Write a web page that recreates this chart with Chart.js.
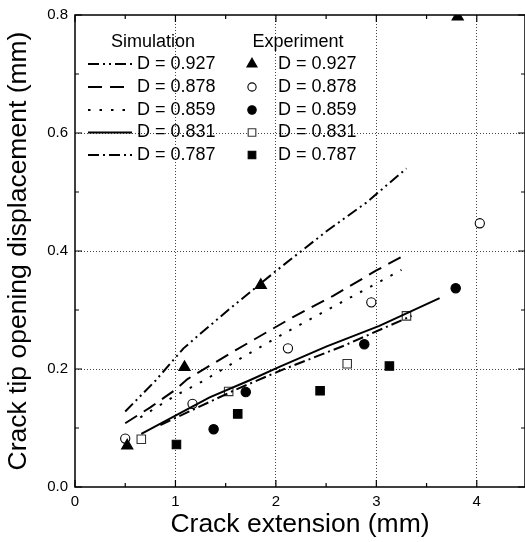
<!DOCTYPE html>
<html>
<head>
<meta charset="utf-8">
<script src="https://cdn.jsdelivr.net/npm/chart.js@4.4.1/dist/chart.umd.min.js"></script>
<style>
  html, body { margin: 0; padding: 0; background: #fff; }
  canvas { display: block; }
</style>
</head>
<body>
<canvas id="chartCtod" width="525" height="542"></canvas>
<script>
/* ===== data ===== */
const dLabels = ['D = 0.927', 'D = 0.878', 'D = 0.859', 'D = 0.831', 'D = 0.787'];

// Simulation curves (crack extension mm, CTOD mm)
const sim927X = [0.5, 0.8, 1.08, 1.25, 1.54, 2.0, 2.5, 2.9, 3.3];
const sim927Y = [0.128, 0.18, 0.235, 0.26, 0.302, 0.366, 0.433, 0.482, 0.54];
const sim878X = [0.5, 0.75, 1.0, 1.12, 1.6, 2.17, 2.57, 3.0, 3.27];
const sim878Y = [0.108, 0.135, 0.165, 0.183, 0.232, 0.288, 0.324, 0.367, 0.392];
const sim859X = [0.65, 1.0, 1.28, 1.64, 2.12, 2.62, 3.25];
const sim859Y = [0.118, 0.155, 0.18, 0.217, 0.264, 0.31, 0.368];
const sim831X = [0.66, 1.0, 1.34, 1.74, 2.04, 2.5, 3.03, 3.63];
const sim831Y = [0.09, 0.121, 0.152, 0.181, 0.204, 0.238, 0.273, 0.32];
const sim787X = [0.85, 1.2, 1.6, 2.04, 2.67, 3.35];
const sim787Y = [0.105, 0.133, 0.165, 0.197, 0.239, 0.29];

// Experiment points
const exp927X = [0.52, 1.09, 1.85, 3.81];
const exp927Y = [0.07, 0.203, 0.342, 0.797];
const exp878X = [0.5, 1.17, 2.12, 2.95, 4.03];
const exp878Y = [0.082, 0.141, 0.235, 0.313, 0.447];
const exp859X = [1.38, 1.7, 2.88, 3.79];
const exp859Y = [0.098, 0.161, 0.242, 0.337];
const exp831X = [0.66, 1.53, 2.71, 3.3];
const exp831Y = [0.081, 0.162, 0.209, 0.29];
const exp787X = [1.01, 1.62, 2.44, 3.13];
const exp787Y = [0.072, 0.124, 0.163, 0.205];

const xTicks = [0, 1, 2, 3, 4];
const yTicks = [0, 0.2, 0.4, 0.6, 0.8];

/* ===== styles ===== */
const FONT = 'Arial, "Liberation Sans", sans-serif';
const simDash = [[11, 4, 2, 4, 2, 4], [14, 8], [2.5, 9], [], [11, 4, 2, 4]];
const expMarker = [
    { pointStyle: 'triangle', radius: 6.5, bg: '#000', border: '#000' },
    { pointStyle: 'circle', radius: 4.6, bg: '#fff', border: '#000' },
    { pointStyle: 'circle', radius: 4.7, bg: '#000', border: '#000' },
    { pointStyle: 'rect', radius: 6, bg: '#fff', border: '#333' },
    { pointStyle: 'rect', radius: 6, bg: '#000', border: '#000' }
];

const pts = (xs, ys) => xs.map((x, i) => ({ x, y: ys[i] }));

const simSeries = [[sim927X, sim927Y], [sim878X, sim878Y], [sim859X, sim859Y], [sim831X, sim831Y], [sim787X, sim787Y]];
const expSeries = [[exp927X, exp927Y], [exp878X, exp878Y], [exp859X, exp859Y], [exp831X, exp831Y], [exp787X, exp787Y]];

const datasets = [];
simSeries.forEach(([xs, ys], i) => {
    datasets.push({
        label: 'Simulation ' + dLabels[i],
        data: pts(xs, ys),
        showLine: true,
        borderColor: '#000',
        borderWidth: 2,
        borderDash: simDash[i],
        pointRadius: 0,
        tension: 0,
        clip: 0
    });
});
expSeries.forEach(([xs, ys], i) => {
    const m = expMarker[i];
    datasets.push({
        label: 'Experiment ' + dLabels[i],
        data: pts(xs, ys),
        showLine: false,
        pointStyle: m.pointStyle,
        pointRadius: m.radius,
        pointBackgroundColor: m.bg,
        pointBorderColor: m.border,
        pointBorderWidth: 1.1,
        clip: 0
    });
});

// frame, inward ticks and the two-column legend
const framePlugin = {
    id: 'frame',
    afterDraw(chart) {
        const ctx = chart.ctx;
        const { left, right, top, bottom } = chart.chartArea;
        const sx = chart.scales.x, sy = chart.scales.y;
        ctx.save();
        ctx.strokeStyle = '#000';
        ctx.lineWidth = 1.5;
        ctx.strokeRect(left, top, right - left, bottom - top);

        ctx.lineWidth = 1.2;
        const xStep = (xTicks[1] - xTicks[0]) / 2;
        for (let v = xTicks[0], k = 0; v <= sx.max + 1e-9; v += xStep, k++) {
            const px = sx.getPixelForValue(v);
            const len = k % 2 === 0 ? 7 : 4;
            ctx.beginPath();
            ctx.moveTo(px, bottom); ctx.lineTo(px, bottom - len);
            ctx.moveTo(px, top); ctx.lineTo(px, top + len);
            ctx.stroke();
        }
        const yStep = (yTicks[1] - yTicks[0]) / 2;
        for (let v = yTicks[0], k = 0; v <= sy.max + 1e-9; v += yStep, k++) {
            const py = sy.getPixelForValue(v);
            const len = k % 2 === 0 ? 7 : 4;
            ctx.beginPath();
            ctx.moveTo(left, py); ctx.lineTo(left + len, py);
            ctx.moveTo(right, py); ctx.lineTo(right - len, py);
            ctx.stroke();
        }

        // legend
        const rowY = [64, 87, 110, 132.5, 155];
        ctx.fillStyle = '#000';
        ctx.font = '18px ' + FONT;
        ctx.textBaseline = 'middle';
        ctx.textAlign = 'center';
        ctx.fillText('Simulation', 153, 42);
        ctx.fillText('Experiment', 298, 42);
        ctx.textAlign = 'left';
        dLabels.forEach((lab, i) => {
            const y = rowY[i];
            ctx.save();
            ctx.strokeStyle = '#000';
            ctx.lineWidth = 2;
            ctx.setLineDash(simDash[i]);
            ctx.beginPath();
            ctx.moveTo(88, y); ctx.lineTo(132, y);
            ctx.stroke();
            ctx.restore();
            ctx.fillText(lab, 137, y);

            const m = expMarker[i];
            ctx.save();
            ctx.fillStyle = m.bg;
            ctx.strokeStyle = m.border;
            ctx.lineWidth = 1.1;
            Chart.helpers.drawPoint(ctx, { pointStyle: m.pointStyle, radius: m.radius * 0.9, borderWidth: 1.1 }, 252, y);
            ctx.restore();
            ctx.fillText(lab, 278, y);
        });
        ctx.restore();
    }
};

const gridColor = c => (c.tick && c.tick.value > 0 && c.tick.value < 0.79) ? '#444' : 'rgba(0,0,0,0)';
const xGridColor = c => (c.tick && c.tick.value > 0) ? '#444' : 'rgba(0,0,0,0)';

new Chart(document.getElementById('chartCtod').getContext('2d'), {
    type: 'scatter',
    data: { datasets },
    options: {
        responsive: false,
        animation: false,
        layout: { autoPadding: false, padding: { top: 15, right: 0, left: 0, bottom: 0 } },
        plugins: {
            legend: { display: false },
            tooltip: { enabled: false }
        },
        scales: {
            x: {
                type: 'linear',
                min: 0,
                max: 4.48,
                afterBuildTicks: s => { s.ticks = xTicks.map(v => ({ value: v })); },
                afterFit: s => { s.height = 55; s.paddingLeft = 0; s.paddingRight = 0; },
                grid: { color: xGridColor, lineWidth: 1, drawTicks: false },
                border: { display: false, dash: [1, 2] },
                ticks: { color: '#000', padding: 6, font: { size: 15, family: FONT }, callback: v => String(v) },
                title: { display: true, text: 'Crack extension (mm)', color: '#000', font: { size: 26.5, family: FONT }, padding: { top: 0, bottom: 1 } }
            },
            y: {
                type: 'linear',
                min: 0,
                max: 0.8,
                afterBuildTicks: s => { s.ticks = yTicks.map(v => ({ value: v })); },
                afterFit: s => { s.width = 75; s.paddingTop = 0; s.paddingBottom = 0; },
                grid: { color: gridColor, lineWidth: 1, drawTicks: false },
                border: { display: false, dash: [1, 2] },
                ticks: { color: '#000', padding: 7, font: { size: 15, family: FONT }, callback: v => v.toFixed(1) },
                title: { display: true, text: 'Crack tip opening displacement (mm)', color: '#000', font: { size: 26.5, family: FONT }, padding: { top: 3, bottom: 0 } }
            }
        }
    },
    plugins: [framePlugin]
});
</script>
</body>
</html>
